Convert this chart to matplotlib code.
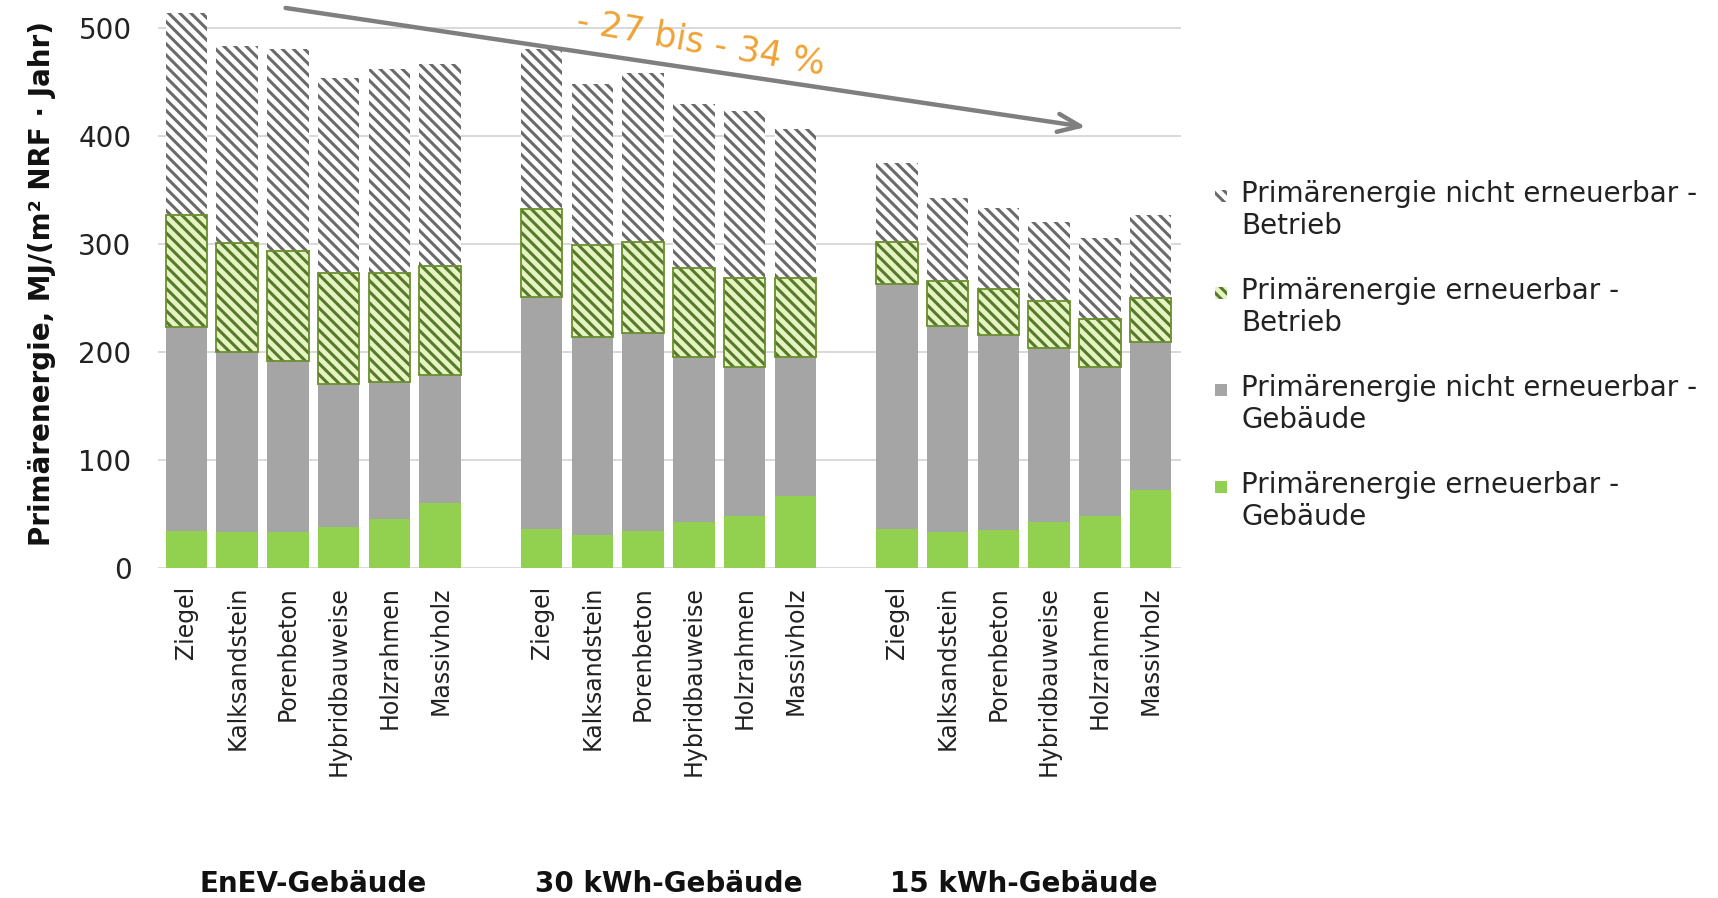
import matplotlib
matplotlib.use("Agg")
import matplotlib.pyplot as plt
from matplotlib.patches import Rectangle
from matplotlib.legend_handler import HandlerPatch
from matplotlib.transforms import blended_transform_factory

plt.rcParams["font.family"] = ["DejaVu Sans"]
plt.rcParams["hatch.linewidth"] = 2.2

# Building variants and construction types
groups = ["EnEV-Gebäude", "30 kWh-Gebäude", "15 kWh-Gebäude"]
categories = ["Ziegel", "Kalksandstein", "Porenbeton",
              "Hybridbauweise", "Holzrahmen", "Massivholz"]

# Primary energy, MJ/(m² NRF · a), per segment; 6 values per building variant
ee_gebaeude = [34, 33, 33, 38, 45, 60,
               36, 31, 34, 43, 48, 67,
               36, 33, 35, 43, 48, 72]
ne_gebaeude = [189, 167, 159, 132, 127, 119,
               215, 183, 184, 152, 138, 128,
               227, 191, 181, 161, 138, 137]
ee_betrieb = [104, 101, 102, 103, 101, 101,
              81, 85, 84, 83, 83, 74,
              39, 42, 42, 43, 45, 41]
ne_betrieb = [187, 182, 187, 181, 189, 187,
              149, 149, 156, 152, 154, 138,
              73, 77, 75, 73, 75, 77]

series_labels = [
    "Primärenergie erneuerbar -\nGebäude",
    "Primärenergie nicht erneuerbar -\nGebäude",
    "Primärenergie erneuerbar -\nBetrieb",
    "Primärenergie nicht erneuerbar -\nBetrieb",
]
reduction_text = "- 27 bis - 34 %"

GREEN = "#92D050"
GRAY = "#A5A5A5"
HATCH_GREEN_BG = "#E6F4C4"
HATCH_GREEN = "#557A2A"
HATCH_GRAY = "#6A6A6A"
ORANGE = "#EFA335"

fig = plt.figure(figsize=(17.18, 8.98), dpi=100)
ax = fig.add_axes([158 / 1718, 1 - 568 / 898, 1023 / 1718, 568 / 898])

n = len(categories)
x = [g * (n + 1) + i for g in range(len(groups)) for i in range(n)]
w = 0.82

b1 = [a for a in ee_gebaeude]
b2 = [a + b for a, b in zip(b1, ne_gebaeude)]
b3 = [a + b for a, b in zip(b2, ee_betrieb)]

h1 = ax.bar(x, ee_gebaeude, w, color=GREEN, linewidth=0, zorder=2)
h2 = ax.bar(x, ne_gebaeude, w, bottom=b1, color=GRAY, linewidth=0, zorder=2)
h3 = ax.bar(x, ee_betrieb, w, bottom=b2, facecolor=HATCH_GREEN_BG,
            edgecolor=HATCH_GREEN, hatch="\\\\\\", linewidth=0, zorder=2)
ax.bar(x, ee_betrieb, w, bottom=b2, fill=False, edgecolor="#6B8E2E",
       linewidth=1.3, zorder=3)
h4 = ax.bar(x, ne_betrieb, w, bottom=b3, facecolor="white",
            edgecolor=HATCH_GRAY, hatch="\\\\\\", linewidth=0, zorder=2)

ax.set_xlim(-0.56, x[-1] + 0.6)
ax.set_ylim(0, 526)
ax.set_yticks([0, 100, 200, 300, 400, 500])
ax.yaxis.grid(True, color="#D9D9D9", linewidth=1.4)
ax.set_axisbelow(True)
for s in ax.spines.values():
    s.set_visible(False)

ax.set_xticks(x)
ax.set_xticklabels(categories * len(groups), rotation=90, fontsize=17,
                   color="#222222")
ax.tick_params(axis="x", length=0, pad=13)
ax.tick_params(axis="y", length=0, pad=19, labelsize=20, labelcolor="#222222")

ax.set_ylabel("Primärenergie, MJ/(m² NRF · Jahr)", fontsize=20,
              fontweight="bold", color="#111111")
ax.yaxis.set_label_coords(-0.1, 0.5)

# Building variant names under each group
trans = blended_transform_factory(ax.transData, fig.transFigure)
for g, name in enumerate(groups):
    xc = g * (n + 1) + (n - 1) / 2
    ax.text(xc, 1 - 884 / 898, name, transform=trans, ha="center",
            va="center", fontsize=20, fontweight="bold", color="#111111")

# Trend arrow with reduction range
ax.annotate("", xy=(17.78, 408), xytext=(1.9, 519),
            arrowprops=dict(arrowstyle="->,head_length=1.6,head_width=0.65",
                            color="#7F7F7F", lw=3.2),
            annotation_clip=False, zorder=5)
ax.text(10.13, 487, reduction_text, rotation=-10, color=ORANGE,
        fontsize=25, ha="center", va="center", zorder=5)


# Small square legend keys placed next to the first line of each label
def square_key(legend, orig_handle, xdescent, ydescent, width, height, fontsize):
    s = 0.42 * fontsize
    return Rectangle((-xdescent, -ydescent + 0.62 * fontsize), s, s)


handles = [h4.patches[0], h3.patches[0], h2.patches[0], h1.patches[0]]
labels = [series_labels[3], series_labels[2], series_labels[1], series_labels[0]]
leg = fig.legend(handles, labels, loc="upper left",
                 bbox_to_anchor=(1190 / 1718, 1 - 155 / 898),
                 frameon=False, fontsize=20, handlelength=0.5,
                 handleheight=0.5, handletextpad=0.45, labelspacing=1.34,
                 handler_map={Rectangle: HandlerPatch(patch_func=square_key)})
for t in leg.get_texts():
    t.set_linespacing(1.17)
    t.set_color("#222222")

fig.savefig("out.png", dpi=100)
